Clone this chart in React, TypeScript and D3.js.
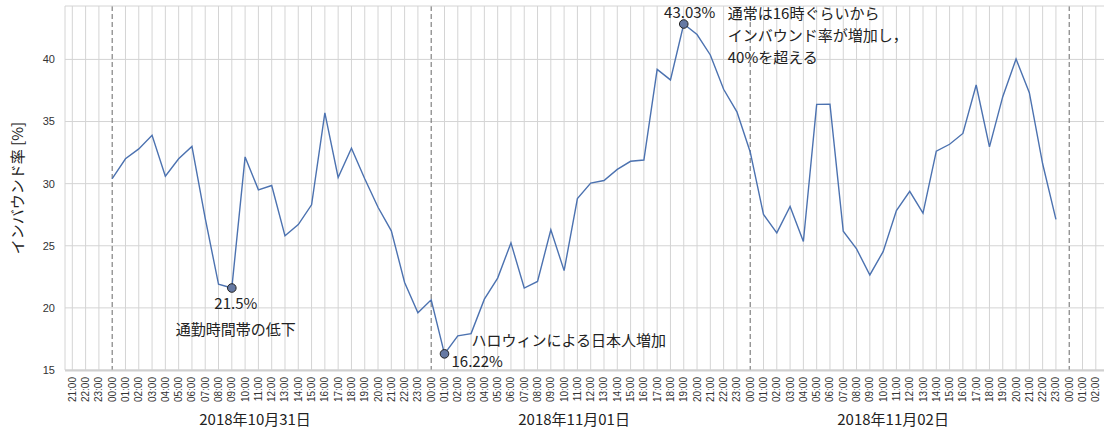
import React, { useRef, useEffect } from 'react';
import * as d3 from 'd3';

// hourly inbound ratio [%], 00:00 - 23:00 for each day
const oct31 = [30.4, 32.0, 32.8, 33.9, 30.6, 32.0, 33.0, 27.2, 21.9, 21.6, 32.15, 29.5, 29.85, 25.8, 26.7, 28.3, 35.7, 30.5, 32.85, 30.4, 28.1, 26.2, 22.05, 19.6];
const nov01 = [20.65, 16.3, 17.75, 17.93, 20.7, 22.4, 25.23, 21.6, 22.13, 26.28, 23.0, 28.8, 30.05, 30.25, 31.15, 31.8, 31.9, 39.2, 38.35, 42.85, 42.0, 40.36, 37.6, 35.78];
const nov02 = [32.55, 27.52, 26.04, 28.17, 25.34, 36.38, 36.4, 26.17, 24.75, 22.65, 24.53, 27.84, 29.38, 27.63, 32.61, 33.17, 34.04, 37.94, 32.96, 37.0, 40.04, 37.32, 31.6, 27.12];
const days = [new Date(2018, 9, 31), new Date(2018, 10, 1), new Date(2018, 10, 2)];
const dayLabels = ['2018年10月31日', '2018年11月01日', '2018年11月02日'];
const yTicks = [15, 20, 25, 30, 35, 40];
const yLabel = 'インバウンド率 [%]';
const pointLabels = ['21.5%', '16.22%', '43.03%'];
const noteRush = '通勤時間帯の低下';
const noteHalloween = 'ハロウィンによる日本人増加';
const noteEvening = ['通常は16時ぐらいから', 'インバウンド率が増加し，', '40%を超える'];

const W = 1104;
const H = 432;
const JP = '"Noto Sans CJK JP", "Noto Sans", sans-serif';

const App = () => {
  const svgRef = useRef<SVGSVGElement>(null);

  useEffect(() => {
    const svg = d3.select(svgRef.current);
    svg.selectAll('*').remove();

    const values = [...oct31, ...nov01, ...nov02];
    const data = values.map((v, i) => ({ t: d3.timeHour.offset(days[0], i), v }));

    const margin = { top: 6, left: 65, bottom: 62 };
    const x = d3.scaleTime()
      .domain([new Date(2018, 9, 30, 20, 27), new Date(2018, 10, 3, 2, 37)])
      .range([margin.left, W]);
    const y = d3.scaleLinear()
      .domain([15, 44.3])
      .range([H - margin.bottom, margin.top]);

    const bottom = H - margin.bottom;
    const hours = d3.timeHour.range(new Date(2018, 9, 30, 21), new Date(2018, 10, 3, 3));
    const grid = '#d4d4d4';

    // horizontal grid
    svg.append('g')
      .selectAll('line')
      .data(yTicks)
      .join('line')
      .attr('x1', margin.left).attr('x2', W)
      .attr('y1', d => y(d)).attr('y2', d => y(d))
      .attr('stroke', grid).attr('stroke-width', 1);

    // vertical hourly grid
    svg.append('g')
      .selectAll('line')
      .data(hours.filter(h => h.getHours() !== 0))
      .join('line')
      .attr('x1', d => x(d)).attr('x2', d => x(d))
      .attr('y1', margin.top).attr('y2', bottom)
      .attr('stroke', grid).attr('stroke-width', 1);

    // midnight separators
    svg.append('g')
      .selectAll('line')
      .data(hours.filter(h => h.getHours() === 0))
      .join('line')
      .attr('x1', d => x(d)).attr('x2', d => x(d))
      .attr('y1', margin.top).attr('y2', bottom)
      .attr('stroke', '#777').attr('stroke-width', 1.1)
      .attr('stroke-dasharray', '5,3');

    // frame
    svg.append('line').attr('x1', margin.left).attr('x2', W).attr('y1', margin.top).attr('y2', margin.top)
      .attr('stroke', grid);
    svg.append('line').attr('x1', margin.left).attr('x2', margin.left).attr('y1', margin.top).attr('y2', bottom)
      .attr('stroke', grid);
    svg.append('line').attr('x1', margin.left).attr('x2', W).attr('y1', bottom + 0.5).attr('y2', bottom + 0.5)
      .attr('stroke', '#d0d0d0').attr('stroke-width', 2);

    // y tick labels
    svg.append('g')
      .selectAll('text')
      .data(yTicks)
      .join('text')
      .attr('x', margin.left - 10)
      .attr('y', d => y(d))
      .attr('dy', '0.35em')
      .attr('text-anchor', 'end')
      .attr('font-family', '"Liberation Sans", Arial, sans-serif')
      .attr('font-size', 11)
      .attr('fill', '#333')
      .text(d => d);

    // x tick labels
    const fmt = d3.timeFormat('%H:%M');
    svg.append('g')
      .selectAll('text')
      .data(hours)
      .join('text')
      .attr('transform', d => `translate(${x(d)},${bottom + 7}) rotate(-90)`)
      .attr('dy', '0.35em')
      .attr('text-anchor', 'end')
      .attr('font-family', '"Liberation Sans", Arial, sans-serif')
      .attr('font-size', 10)
      .attr('fill', '#333')
      .text(d => fmt(d));

    // day labels
    svg.append('g')
      .selectAll('text')
      .data(days)
      .join('text')
      .attr('x', d => x(d3.timeMinute.offset(d, 645)))
      .attr('y', 425)
      .attr('text-anchor', 'middle')
      .attr('font-family', JP)
      .attr('font-size', 15)
      .attr('fill', '#222')
      .text((d, i) => dayLabels[i]);

    // y label
    svg.append('text')
      .attr('transform', `translate(23,${(margin.top + bottom) / 2}) rotate(-90)`)
      .attr('text-anchor', 'middle')
      .attr('font-family', JP)
      .attr('font-size', 15)
      .attr('fill', '#222')
      .text(yLabel);

    // series
    const line = d3.line<{ t: Date; v: number }>().x(d => x(d.t)).y(d => y(d.v));
    svg.append('path')
      .datum(data)
      .attr('fill', 'none')
      .attr('stroke', '#4c72b0')
      .attr('stroke-width', 1.4)
      .attr('d', line);

    // highlighted points
    const lo1 = data[9];
    const lo2 = data[25];
    const hi = data[43];
    svg.append('g')
      .selectAll('circle')
      .data([lo1, lo2, hi])
      .join('circle')
      .attr('cx', d => x(d.t))
      .attr('cy', d => y(d.v))
      .attr('r', 4.3)
      .attr('fill', '#6679a3')
      .attr('stroke', '#222')
      .attr('stroke-width', 1);

    const note = (tx: number, ty: number, s: string, anchor = 'start') =>
      svg.append('text')
        .attr('x', tx).attr('y', ty)
        .attr('text-anchor', anchor)
        .attr('font-family', JP)
        .attr('font-size', 15)
        .attr('fill', '#222')
        .text(s);

    note(x(lo1.t) + 4, y(lo1.v) + 21, pointLabels[0], 'middle');
    note(x(lo1.t) + 4, y(lo1.v) + 47, noteRush, 'middle');
    note(x(lo2.t) + 7, y(lo2.v) + 13, pointLabels[1]);
    note(x(lo2.t) + 27, y(lo2.v) - 8, noteHalloween);
    note(x(hi.t) + 6, y(hi.v) - 6, pointLabels[2], 'middle');
    noteEvening.forEach((s, i) => note(x(hi.t) + 44, 19 + i * 22, s));
  }, []);

  return (
    <svg ref={svgRef} width={W} height={H} style={{ position: 'absolute', left: 0, top: 0, background: '#fff' }} />
  );
};

export default App;
